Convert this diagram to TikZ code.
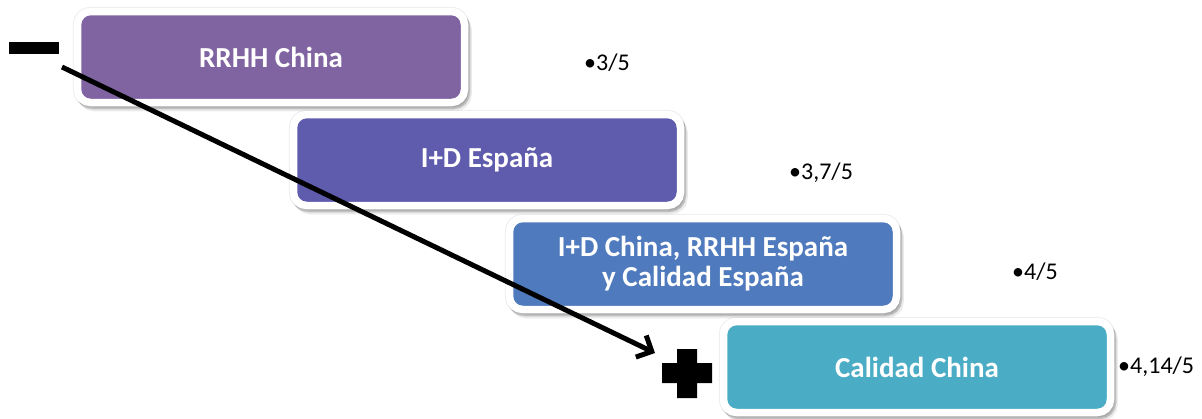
\documentclass[tikz,border=0pt]{standalone}
\usepackage{fontspec}
\setmainfont{Carlito}
\usetikzlibrary{
  arrows.meta,
  positioning,
  shadows,
}
\definecolor{rrhhchina}{HTML}{8064A2}
\definecolor{idespana}{HTML}{5F5BAD}
\definecolor{mixbox}{HTML}{4F7BBE}
\definecolor{calchina}{HTML}{4BACC6}
\tikzset{
  >=Straight Barb[],
  level box/.style={
    draw=white, line width=7.5pt, rounded corners=13pt,
    minimum width=387pt, minimum height=91pt, inner sep=0pt,
    align=center, text=white,
    font=\fontsize{29}{30}\selectfont\bfseries,
    general shadow={shadow xshift=0pt, shadow yshift=0pt, fill=black, draw=black,
      line width=9.5pt, opacity=0.07},
    general shadow={shadow xshift=3.5pt, shadow yshift=-5pt, fill=black, draw=black,
      line width=7.5pt, opacity=0.08},
    general shadow={shadow xshift=2pt, shadow yshift=-3pt, fill=black, draw=black,
      line width=7.5pt, opacity=0.18},
  },
  score/.style={anchor=west, inner sep=0pt, font=\fontsize{24}{26}\selectfont},
}

\begin{document}
\begin{tikzpicture}[x=1pt, y=-1pt]
      \useasboundingbox (0, 0) rectangle (1202, 418);

      \node [level box, fill=rrhhchina] (rrhh china) at (271, 57) {RRHH China};
      \node [level box, fill=idespana] (id espana) at (487, 160) {I+D España};
      \node [level box, fill=mixbox] (id china) at (703, 264) {I+D China, RRHH España\\y Calidad España};
      \node [level box, fill=calchina] (calidad china) at (917, 367) {Calidad China};

      \node [score] (s1) at (584, 63) {•3/5};
      \node [score] (s2) at (789, 173) {•3,7/5};
      \node [score] (s3) at (1012, 272) {•4/5};
      \node [score] (s4) at (1118, 367) {•4,14/5};

      % signs
      \node [fill=black, minimum width=50pt, minimum height=12pt, inner sep=0pt] (minus) at (34, 48) {};
      \fill (677, 349) -- (697, 349) -- (697, 363) -- (712, 363) -- (712, 383) -- (697, 383)
        -- (697, 398) -- (677, 398) -- (677, 383) -- (662, 383) -- (662, 363) -- (677, 363) -- cycle;
      \coordinate (plus) at (687, 373);

      \coordinate (from) at (62, 67);
      \coordinate (to) at (655, 353);
      \draw [->, >={Straight Barb[length=12pt, width=24pt]}, line width=5pt] (from) -- (to);
    \end{tikzpicture}
\end{document}
